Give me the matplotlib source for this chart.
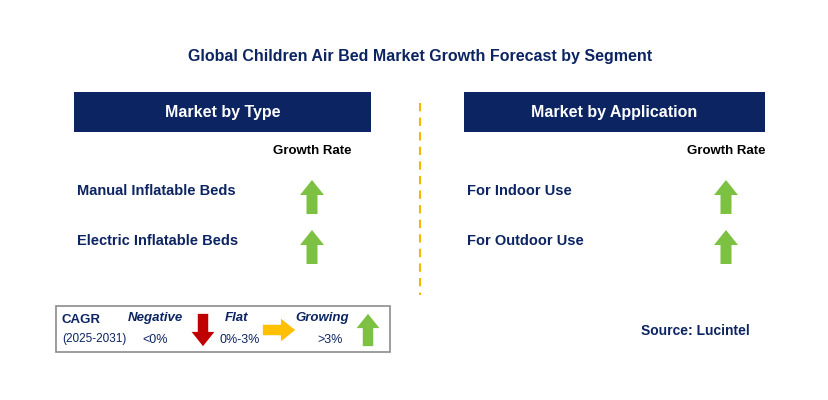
import matplotlib
matplotlib.use("Agg")
import matplotlib.pyplot as plt
from matplotlib.patches import Rectangle, Polygon

plt.rcParams["font.family"] = "Liberation Sans"

title = "Global Children Air Bed Market Growth Forecast by Segment"
panel_titles = ["Market by Type", "Market by Application"]
types = ["Manual Inflatable Beds", "Electric Inflatable Beds"]
applications = ["For Indoor Use", "For Outdoor Use"]
type_trend = ["up", "up"]
app_trend = ["up", "up"]
legend_names = ["Negative", "Flat", "Growing"]
legend_ranges = ["<0%", "0%-3%", ">3%"]
legend_trend = ["down", "flat", "up"]

NAVY = "#0c2461"
GREEN = "#7dc142"
RED = "#c00000"
ORANGE = "#ffc000"
TXT = "#0c2461"


def arrow(ax, cx, cy, kind, size=1.0):
    # cx, cy = centre of arrow in pixels
    h = 34 * size
    hw = 12 * size
    sw = 5.5 * size
    hh = 15 * size
    if kind == "up":
        t, b = cy - h / 2, cy + h / 2
        pts = [(cx, t), (cx + hw, t + hh), (cx + sw, t + hh), (cx + sw, b),
               (cx - sw, b), (cx - sw, t + hh), (cx - hw, t + hh)]
        c = GREEN
    elif kind == "down":
        t, b = cy - h / 2, cy + h / 2
        pts = [(cx, b), (cx + hw, b - hh), (cx + sw, b - hh), (cx + sw, t),
               (cx - sw, t), (cx - sw, b - hh), (cx - hw, b - hh)]
        c = RED
    else:
        l, r = cx - h / 2, cx + h / 2
        pts = [(r, cy), (r - hh, cy - hw), (r - hh, cy - sw), (l, cy - sw),
               (l, cy + sw), (r - hh, cy + sw), (r - hh, cy + hw)]
        c = ORANGE
    ax.add_patch(Polygon(pts, closed=True, color=c, lw=0))


fig = plt.figure(figsize=(8.29, 4.0), dpi=100)
ax = fig.add_axes([0, 0, 1, 1])
ax.set_xlim(0, 829)
ax.set_ylim(400, 0)
ax.axis("off")

ax.text(420, 57, title, ha="center", va="center", fontsize=11.5, fontweight="bold", color=TXT)

panels = [(74, 371, 312, types, type_trend), (464, 765, 726, applications, app_trend)]
for (x0, x1, ax_x, rows, trend), pt in zip(panels, panel_titles):
    ax.add_patch(Rectangle((x0, 92), x1 - x0, 40, color=NAVY, lw=0))
    ax.text((x0 + x1) / 2, 112, pt, ha="center", va="center", fontsize=11.5,
            fontweight="bold", color="white")
    ax.text(ax_x, 151, "Growth Rate", ha="center", va="center", fontsize=9.5,
            fontweight="bold", color="black")
    for i, (name, tr) in enumerate(zip(rows, trend)):
        y = 191 + 50 * i
        ax.text(x0 + 3, y, name, ha="left", va="center", fontsize=10.5,
                fontweight="bold", color=TXT)
        arrow(ax, ax_x, y + 6, tr)

ax.plot([420, 420], [103, 295], ls=(0, (4, 3)), color="#f5b800", lw=1.5)

# legend box
ax.add_patch(Rectangle((56, 306), 334, 46, fill=False, ec="#8c8c8c", lw=1.2))
ax.text(62, 320, "CAGR", ha="left", va="center", fontsize=9.5, fontweight="bold", color=TXT)
ax.text(62, 339, "(2025-2031)", ha="left", va="center", fontsize=8.5, color=TXT)
name_x = [155, 237, 322]
range_x = [155, 240, 330]
arrow_x = [203, 279, 368]
for n, r, tr, nx, rx, axx in zip(legend_names, legend_ranges, legend_trend, name_x, range_x, arrow_x):
    ax.text(nx, 318, n, ha="center", va="center", fontsize=9.5, fontweight="bold",
            style="italic", color=TXT)
    ax.text(rx, 340, r, ha="center", va="center", fontsize=9, color=TXT)
    arrow(ax, axx, 330, tr, size=0.95)

ax.text(750, 331, "Source: Lucintel", ha="right", va="center", fontsize=10,
        fontweight="bold", color=TXT)

fig.savefig("out.png", dpi=100)
